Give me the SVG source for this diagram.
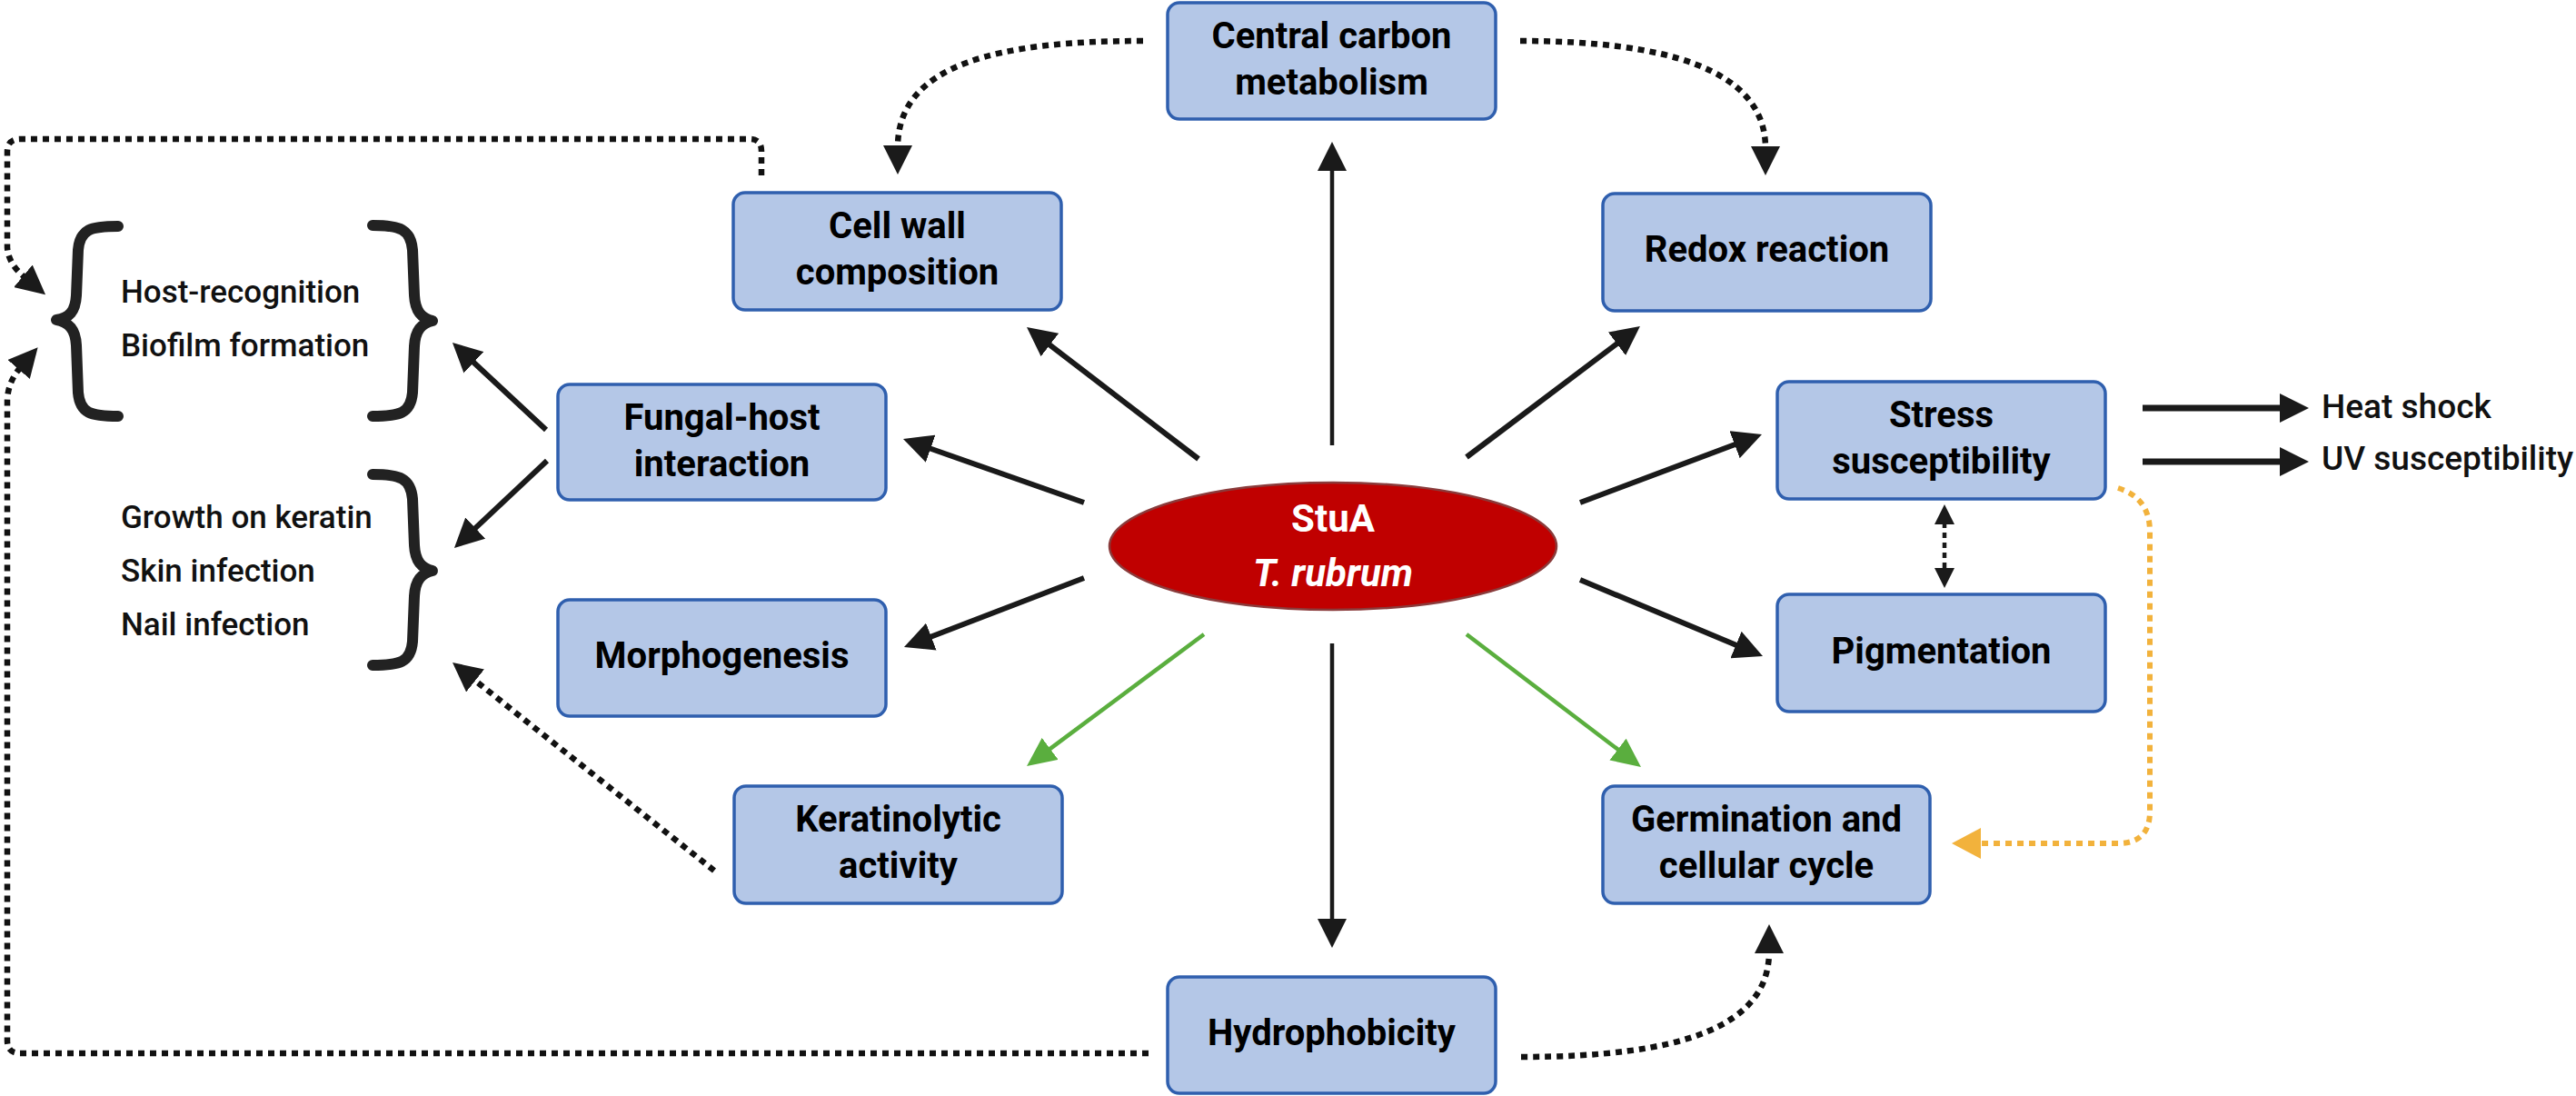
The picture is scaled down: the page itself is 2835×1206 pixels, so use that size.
<svg xmlns="http://www.w3.org/2000/svg" width="2835" height="1206" viewBox="0 0 2835 1206">
<style>
.box{fill:#b4c7e7;stroke:#2f5fae;stroke-width:3.5}
.lbl{font-family:Roboto,"Liberation Sans",sans-serif;font-weight:bold;font-size:40px;fill:#000;text-anchor:middle}
.side{font-family:Roboto,"Liberation Sans",sans-serif;font-weight:500;font-size:35px;fill:#111}
.solid{stroke:#1a1a1a;stroke-width:6;fill:none;marker-end:url(#ah)}
.thin{stroke:#1a1a1a;stroke-width:4.5;fill:none;marker-end:url(#ah)}
.green{stroke:#5aae3e;stroke-width:4.5;fill:none;marker-end:url(#ahg)}
.dot{stroke:#111;stroke-width:6.5;fill:none;stroke-dasharray:7 6;marker-end:url(#ah)}
.orange{stroke:#f2b23c;stroke-width:6;fill:none;stroke-dasharray:7 6;marker-end:url(#aho)}
.brace{stroke:#222;stroke-width:12;fill:none;stroke-linecap:round;stroke-linejoin:round}
</style>
<defs>
<marker id="ah" viewBox="0 0 32 32" refX="2" refY="16" markerWidth="32" markerHeight="32" markerUnits="userSpaceOnUse" orient="auto"><path d="M0,0 L32,16 L0,32 z" fill="#1a1a1a"/></marker>
<marker id="ahg" viewBox="0 0 32 30" refX="2" refY="15" markerWidth="32" markerHeight="30" markerUnits="userSpaceOnUse" orient="auto"><path d="M0,0 L32,15 L0,30 z" fill="#5aae3e"/></marker>
<marker id="aho" viewBox="0 0 32 34" refX="2" refY="17" markerWidth="32" markerHeight="34" markerUnits="userSpaceOnUse" orient="auto"><path d="M0,0 L32,17 L0,34 z" fill="#f2b23c"/></marker>
<marker id="ahs" viewBox="0 0 22 22" refX="2" refY="11" markerWidth="22" markerHeight="22" markerUnits="userSpaceOnUse" orient="auto-start-reverse"><path d="M0,0 L22,11 L0,22 z" fill="#1a1a1a"/></marker>
</defs>
<rect width="2835" height="1206" fill="#fff"/>

<g id="connectors">
<line class="thin" x1="1466" y1="490" x2="1466" y2="186"/>
<line class="solid" x1="1319" y1="505" x2="1153.8" y2="378.3"/>
<line class="solid" x1="1614" y1="503" x2="1781" y2="377.1"/>
<line class="solid" x1="1193" y1="553" x2="1022.3" y2="493"/>
<line class="solid" x1="1193" y1="636" x2="1023" y2="701.3"/>
<line class="solid" x1="1739" y1="553" x2="1910.9" y2="488.5"/>
<line class="solid" x1="1739" y1="638" x2="1912.3" y2="710.4"/>
<line class="thin" x1="1466" y1="708" x2="1466" y2="1013"/>
<line class="green" x1="1325" y1="698" x2="1154.1" y2="825.1"/>
<line class="green" x1="1614" y1="698" x2="1782.1" y2="825.8"/>
<line class="solid" x1="601" y1="473" x2="519.9" y2="397.5"/>
<line class="solid" x1="602" y1="507" x2="521.8" y2="582.4"/>
<line class="solid" style="stroke-width:7" x1="2358" y1="449" x2="2511" y2="449"/>
<line class="solid" style="stroke-width:7" x1="2358" y1="508" x2="2511" y2="508"/>
<line class="dot" x1="786" y1="958" x2="521.5" y2="747.7"/>
<path class="dot" d="M1258,45 C1100,45 988,70 988,162"/>
<path class="dot" d="M1673,45 C1830,45 1943,75 1943,163"/>
<path class="dot" d="M838,193 L838,166 Q838,153 825,153 L22,153 Q8,153 8,167 L8,272 Q9,290 27,305"/>
<path class="dot" d="M1264,1159 L22,1159 Q8,1159 8,1145 L8,440 Q9,420 22,405"/>
<path class="dot" d="M1674,1163 C1850,1163 1947,1130 1947,1047"/>
<line stroke="#1a1a1a" stroke-width="4.5" stroke-dasharray="6 5" x1="2140" y1="575" x2="2140" y2="627" marker-start="url(#ahs)" marker-end="url(#ahs)"/>
<path class="orange" d="M2331,537 Q2366,548 2366,585 L2366,893 Q2366,928 2331,928 L2178,928"/>
</g>

<g id="brace-host">
<path class="brace" d="M130,249 C100,249 88,252 86,275 L84,325 C83,343 76,350 62,352 C76,355 83,362 84,380 L86,432 C88,455 100,458 130,458"/>
<path class="brace" d="M410,248 C440,248 452,252 454,275 L456,325 C457,343 464,350 476,353 C464,356 457,363 456,381 L454,432 C452,455 440,458 410,458"/>
<text class="side" x="133" y="333">Host-recognition</text>
<text class="side" x="133" y="392">Biofilm formation</text>
</g>
<g id="brace-infection">
<path class="brace" d="M410,522 C440,522 452,526 454,549 L456,600 C457,618 464,625 476,628 C464,631 457,638 456,656 L454,706 C452,729 440,732 410,732"/>
<text class="side" x="133" y="581">Growth on keratin</text>
<text class="side" x="133" y="640">Skin infection</text>
<text class="side" x="133" y="699">Nail infection</text>
</g>
<g id="stress-outcomes">
<text class="side" style="font-size:37px" x="2555" y="460">Heat shock</text>
<text class="side" style="font-size:37px" x="2555" y="517">UV susceptibility</text>
</g>

<g id="stua">
<ellipse cx="1467" cy="601" rx="246" ry="70" fill="#c00000" stroke="#8a3b3b" stroke-width="2.5"/>
<text x="1467" y="585" font-family="Roboto,'Liberation Sans',sans-serif" font-weight="bold" font-size="42" fill="#fff" text-anchor="middle">StuA</text>
<text x="1467" y="645" font-family="Roboto,'Liberation Sans',sans-serif" font-weight="bold" font-style="italic" font-size="42" fill="#fff" text-anchor="middle">T. rubrum</text>
</g>

<g id="central-carbon"><rect class="box" x="1285" y="3" width="361" height="128" rx="13"/>
<text class="lbl" x="1465.5" y="53">Central carbon</text><text class="lbl" x="1465.5" y="104">metabolism</text></g>
<g id="cell-wall"><rect class="box" x="807" y="212" width="361" height="129" rx="13"/>
<text class="lbl" x="987.5" y="262">Cell wall</text><text class="lbl" x="987.5" y="313">composition</text></g>
<g id="redox"><rect class="box" x="1764" y="213" width="361" height="129" rx="13"/>
<text class="lbl" x="1944.5" y="288">Redox reaction</text></g>
<g id="fungal-host"><rect class="box" x="614" y="423" width="361" height="127" rx="13"/>
<text class="lbl" x="794.5" y="473">Fungal-host</text><text class="lbl" x="794.5" y="524">interaction</text></g>
<g id="morphogenesis"><rect class="box" x="614" y="660" width="361" height="128" rx="13"/>
<text class="lbl" x="794.5" y="735">Morphogenesis</text></g>
<g id="keratinolytic"><rect class="box" x="808" y="865" width="361" height="129" rx="13"/>
<text class="lbl" x="988.5" y="915">Keratinolytic</text><text class="lbl" x="988.5" y="966">activity</text></g>
<g id="hydrophobicity"><rect class="box" x="1285" y="1075" width="361" height="128" rx="13"/>
<text class="lbl" x="1465.5" y="1150">Hydrophobicity</text></g>
<g id="germination"><rect class="box" x="1764" y="865" width="360" height="129" rx="13"/>
<text class="lbl" x="1944" y="915">Germination and</text><text class="lbl" x="1944" y="966">cellular cycle</text></g>
<g id="stress"><rect class="box" x="1956" y="420" width="361" height="129" rx="13"/>
<text class="lbl" x="2136.5" y="470">Stress</text><text class="lbl" x="2136.5" y="521">susceptibility</text></g>
<g id="pigmentation"><rect class="box" x="1956" y="654" width="361" height="129" rx="13"/>
<text class="lbl" x="2136.5" y="730">Pigmentation</text></g>
</svg>
